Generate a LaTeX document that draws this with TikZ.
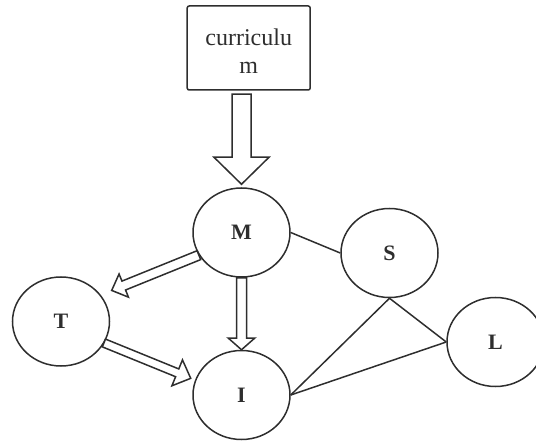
\documentclass[tikz,border=0pt]{standalone}
\usepackage{fontspec}
\setmainfont{Liberation Serif}
\usetikzlibrary{calc,shapes.geometric}

% Outlined (hollow) block arrow from #1 to #2:
% #3 shaft half width, #4 head half width, #5 head length
\newcommand{\blockarrow}[5]{%
  \coordinate (ba-s) at (#1);
  \coordinate (ba-t) at (#2);
  \coordinate (ba-h) at ($(ba-t)!#5!(ba-s)$);
  \draw[blockline]
    ($(ba-s)!#3!90:(ba-t)$) --
    ($(ba-h)!#3!90:(ba-t)$) --
    ($(ba-h)!#4!90:(ba-t)$) --
    (ba-t) --
    ($(ba-h)!#4!-90:(ba-t)$) --
    ($(ba-h)!#3!-90:(ba-t)$) --
    ($(ba-s)!#3!-90:(ba-t)$) -- cycle;
}

\definecolor{ink}{HTML}{2E2E2E}

\begin{document}
\begin{tikzpicture}[x=1pt,y=-1pt,
  outline/.style={draw=ink, line width=1.5pt},
  blockline/.style={outline, fill=white, line join=miter},
  topic/.style={outline, rectangle, rounded corners=2pt, minimum width=123pt,
    minimum height=84pt, inner sep=0pt},
  agent/.style={outline, ellipse, minimum width=97pt, minimum height=89pt,
    inner sep=0pt, font=\fontsize{22}{24}\selectfont\bfseries, text=ink},
  link/.style={outline}]

  \useasboundingbox (0,0) rectangle (536,441);

  % nodes
  \node[topic] (cur) at (248.7,48) {};
  \node[font=\fontsize{24}{28}\selectfont, text=ink, align=center, inner sep=0pt]
    (curtext) at (248.7,51) {curriculu\\m};
  \node[agent] (M) at (241.5,232.5) {M};
  \node[agent] (T) at (61,321.5) {T};
  \node[agent] (I) at (241.5,395) {I};
  \node[agent] (S) at (389.5,253) {S};
  \node[agent] (L) at (495.5,342) {L};

  % plain connectors
  \draw[link] (M.east) -- (S.west);
  \draw[link] (S.south) -- (L.west);
  \draw[link] (S.south) -- (I.east);
  \draw[link] (I.east) -- (L.west);

  % block arrows
  \coordinate (curfoot) at ($(M.north |- cur.south)+(0,3.5)$);
  \coordinate (Mtop) at ($(M.north)+(0,-3)$);
  \blockarrow{curfoot}{Mtop}{9.5pt}{27.5pt}{27pt}
  \blockarrow{M.south}{I.north}{5pt}{13.3pt}{11.7pt}
  \coordinate (Ttip) at ($(T.30)+(9,-7)$);
  \blockarrow{M.208}{Ttip}{4.8pt}{12.5pt}{13pt}
  \coordinate (Tfoot) at ($(T.-25)+(-1,1)$);
  \coordinate (Itip) at ($(I.160)+(-5,0)$);
  \blockarrow{Tfoot}{Itip}{4.2pt}{14pt}{14.6pt}
\end{tikzpicture}
\end{document}
